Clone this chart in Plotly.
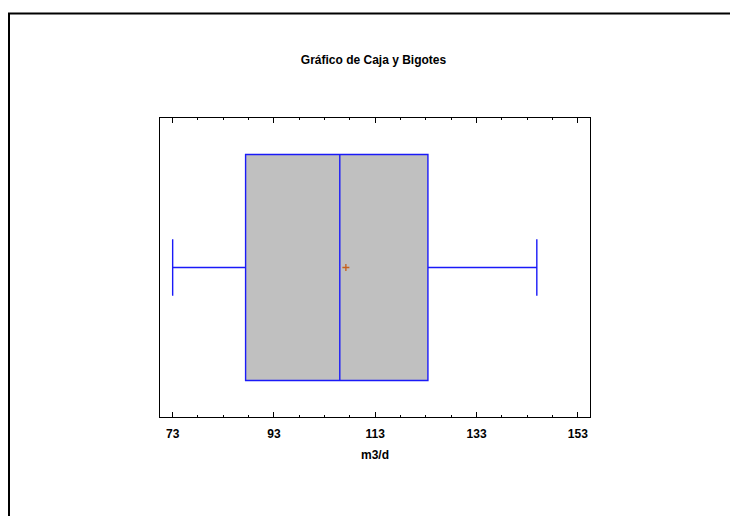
import plotly.graph_objects as go

# Data
title_text = "Gráfico de Caja y Bigotes"
axis_label = "m3/d"
q1 = [87.4]
median = [106.0]
q3 = [123.4]
lower_whisker = [73.0]
upper_whisker = [144.9]
mean = [107.2]
tick_values = [73, 93, 113, 133, 153]
tick_labels = ["73", "93", "113", "133", "153"]

FONT = "Liberation Sans, Arial, sans-serif"

fig = go.Figure()
fig.add_trace(go.Box(
    y=[0], q1=q1, median=median, q3=q3,
    lowerfence=lower_whisker, upperfence=upper_whisker,
    orientation="h", boxpoints=False,
    fillcolor="#C0C0C0",
    line=dict(color="#1A1AF8", width=1.4),
    width=0.756, whiskerwidth=0.25,
    showlegend=False, hoverinfo="skip",
))
fig.add_trace(go.Scatter(
    x=mean, y=[0], mode="markers",
    marker=dict(symbol="cross-thin", size=5, line=dict(color="#C8601A", width=1.3)),
    showlegend=False, hoverinfo="skip",
))

L, R, T, B = 160, 140, 118, 99
W, H = 730, 516
pw, ph = W - L - R, H - T - B

fig.update_layout(
    width=W, height=H,
    margin=dict(l=L, r=R, t=T, b=B, pad=0),
    paper_bgcolor="white", plot_bgcolor="white",
    font=dict(family=FONT, color="black"),
    title=dict(text="<b>" + title_text + "</b>", x=373.5 / W, xref="container",
               xanchor="center", y=1 - 60 / H, yanchor="middle", yref="container",
               font=dict(size=12, family=FONT, color="black")),
    xaxis=dict(
        range=[70.5, 155.4], tickvals=tick_values, ticktext=["<b>%s</b>" % t for t in tick_labels],
        ticks="inside", ticklen=5, tickwidth=1, tickcolor="black",
        minor=dict(dtick=5, tick0=73, ticks="inside", ticklen=2, tickwidth=1, tickcolor="black"),
        showline=True, linecolor="black", linewidth=1, mirror="ticks",
        showgrid=False, zeroline=False,
        ticklabelstandoff=6,
        tickfont=dict(size=12, family=FONT, color="black"),
        title=dict(text="<b>" + axis_label + "</b>", font=dict(size=12, family=FONT, color="black"), standoff=10),
    ),
    yaxis=dict(
        range=[-0.5, 0.5], showticklabels=False, ticks="",
        showline=True, linecolor="black", linewidth=1, mirror=True,
        showgrid=False, zeroline=False,
    ),
    shapes=[dict(
        type="rect", xref="paper", yref="paper",
        x0=(9 - L) / pw, x1=(800 - L) / pw,
        y0=(H - B - 600) / ph, y1=(H - B - 13.5) / ph,
        line=dict(color="black", width=2), fillcolor="rgba(0,0,0,0)", layer="above",
    )],
)

fig.write_html("out.html")
